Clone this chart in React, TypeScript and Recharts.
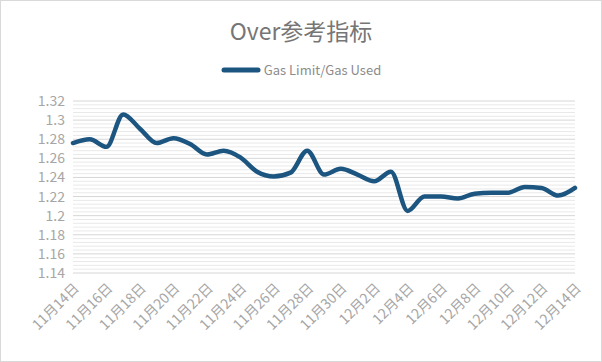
import React from 'react';
import { LineChart, Line, XAxis, YAxis, CartesianGrid, Legend } from 'recharts';

const title = 'Over参考指标';
const seriesName = 'Gas Limit/Gas Used';

const categories = [
  '11月14日', '11月15日', '11月16日', '11月17日', '11月18日', '11月19日', '11月20日',
  '11月21日', '11月22日', '11月23日', '11月24日', '11月25日', '11月26日', '11月27日',
  '11月28日', '11月29日', '11月30日', '12月1日', '12月2日', '12月3日', '12月4日',
  '12月5日', '12月6日', '12月7日', '12月8日', '12月9日', '12月10日', '12月11日',
  '12月12日', '12月13日', '12月14日',
];

const gasRatio = [
  1.276, 1.280, 1.272, 1.306, 1.291, 1.276, 1.281,
  1.275, 1.264, 1.268, 1.261, 1.246, 1.241, 1.245,
  1.268, 1.243, 1.249, 1.243, 1.236, 1.246, 1.205,
  1.220, 1.220, 1.218, 1.223, 1.224, 1.224, 1.230,
  1.229, 1.221, 1.229,
];

const yTicks = [1.14, 1.16, 1.18, 1.2, 1.22, 1.24, 1.26, 1.28, 1.3, 1.32];

const data = categories.map((c, i) => ({ date: c, value: gasRatio[i] }));

const minorValues: number[] = [];
for (let i = 0; i < yTicks.length - 1; i++) {
  for (let k = 1; k < 5; k++) {
    minorValues.push(+(yTicks[i] + ((yTicks[i + 1] - yTicks[i]) * k) / 5).toFixed(4));
  }
}

const FONT = '"Noto Sans CJK SC", "Noto Sans", sans-serif';
const LINE_COLOR = '#1b5580';

const renderLegend = () => (
  <div style={{ display: 'flex', justifyContent: 'center', alignItems: 'center', fontFamily: FONT }}>
    <svg width={40} height={10} style={{ marginRight: 3 }}>
      <line x1={3} y1={5} x2={37} y2={5} stroke={LINE_COLOR} strokeWidth={5} strokeLinecap="round" />
    </svg>
    <span style={{ fontSize: 13, color: '#8c8c8c' }}>{seriesName}</span>
  </div>
);

export default function App() {
  return (
    <div
      style={{
        position: 'fixed',
        left: 0,
        top: 0,
        width: 602,
        height: 362,
        background: '#fff',
        boxSizing: 'border-box',
        border: '1px solid #d9d9d9',
        fontFamily: FONT,
      }}
    >
      <div
        style={{
          position: 'absolute',
          top: 14,
          left: 0,
          width: '100%',
          textAlign: 'center',
          fontSize: 23,
          color: '#767676',
          lineHeight: '30px',
        }}
      >
        {title}
      </div>
      <LineChart width={600} height={360} data={data} margin={{ top: 100, right: 26, bottom: 18, left: 12 }}>
        <CartesianGrid vertical={false} horizontalValues={minorValues} stroke="#e9e9e9" strokeWidth={1} />
        <CartesianGrid vertical={false} horizontalValues={yTicks} stroke="#d6d6d6" strokeWidth={1} />
        <XAxis
          dataKey="date"
          interval={1}
          angle={-45}
          textAnchor="end"
          tickLine={false}
          axisLine={false}
          height={70}
          tickMargin={3}
          tick={{ fill: '#a6a6a6', fontSize: 14, fontFamily: FONT }}
        />
        <YAxis
          type="number"
          domain={[1.14, 1.32]}
          ticks={yTicks}
          interval={0}
          allowDataOverflow
          tickLine={false}
          axisLine={false}
          width={60}
          tickFormatter={(v: number) => String(v)}
          tick={{ fill: '#a6a6a6', fontSize: 14, fontFamily: FONT }}
        />
        <Legend
          verticalAlign="middle"
          content={renderLegend}
          wrapperStyle={{ top: 59, left: 0, width: 600 }}
        />
        <Line
          type="monotone"
          dataKey="value"
          name={seriesName}
          stroke={LINE_COLOR}
          strokeWidth={4.5}
          dot={false}
          activeDot={false}
          isAnimationActive={false}
          strokeLinecap="round"
          strokeLinejoin="round"
        />
      </LineChart>
    </div>
  );
}
